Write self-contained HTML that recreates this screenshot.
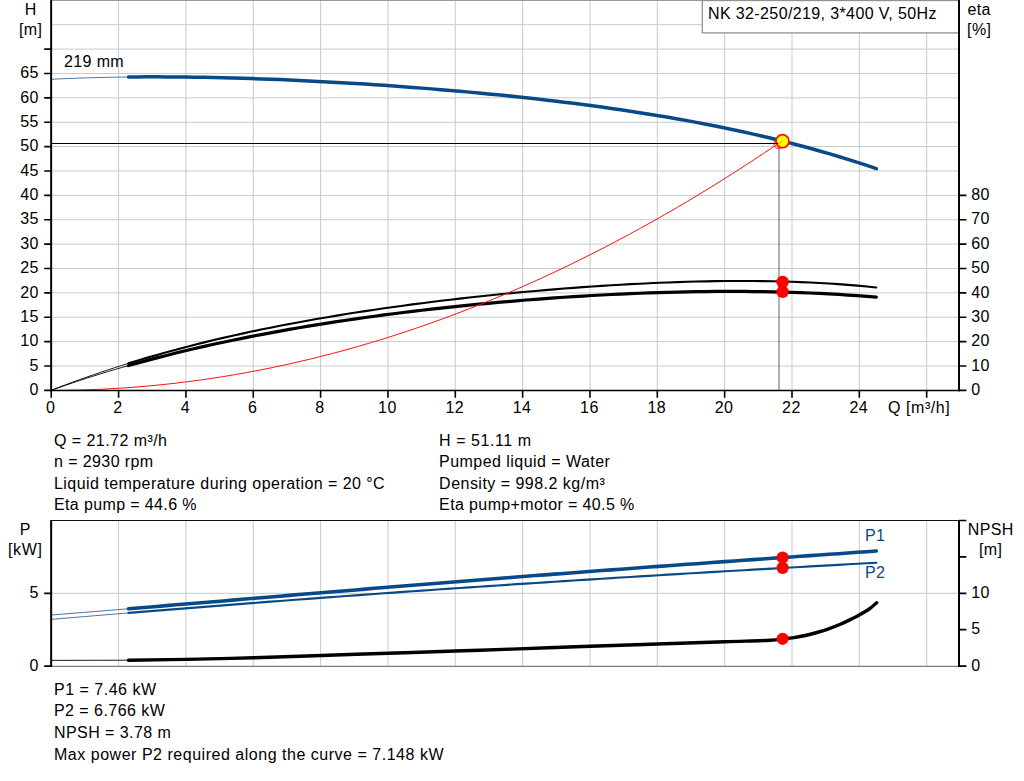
<!DOCTYPE html>
<html><head><meta charset="utf-8"><title>Pump curve</title>
<style>html,body{margin:0;padding:0;background:#fff;overflow:hidden}svg{display:block}</style></head>
<body>
<svg width="1024" height="781" viewBox="0 0 1024 781" font-family="'Liberation Sans', sans-serif" font-size="16" fill="#000" letter-spacing="0.38">
<rect width="1024" height="781" fill="#fff"/>
<path d="M118.59,0V390.4 M185.93,0V390.4 M253.27,0V390.4 M320.61,0V390.4 M387.95,0V390.4 M455.29,0V390.4 M522.63,0V390.4 M589.97,0V390.4 M657.31,0V390.4 M724.65,0V390.4 M791.99,0V390.4 M859.33,0V390.4 M926.67,0V390.4 M51.15,366.02H959.0 M51.15,341.64H959.0 M51.15,317.26H959.0 M51.15,292.88H959.0 M51.15,268.50H959.0 M51.15,244.12H959.0 M51.15,219.74H959.0 M51.15,195.36H959.0 M51.15,170.98H959.0 M51.15,146.60H959.0 M51.15,122.22H959.0 M51.15,97.84H959.0 M51.15,73.46H959.0 M51.15,49.08H959.0 M51.15,24.70H959.0" stroke="#c6cacd" stroke-width="1" fill="none"/>
<path d="M51.15,0.5H959.0" stroke="#9a9a9a" stroke-width="1.2"/>
<rect x="702.3" y="0.5" width="256.70000000000005" height="32.4" fill="#fff" stroke="#909090" stroke-width="1.3"/>
<text x="708" y="18.6">NK 32-250/219, 3*400 V, 50Hz</text>
<path d="M779,147V390.4" stroke="#000" stroke-opacity="0.31" stroke-width="2"/>
<circle cx="778.9" cy="143.8" r="4.9" fill="none" stroke="#ff2020" stroke-width="1"/>
<path d="M51.25,390.29 L58.27,387.57 L65.30,384.91 L72.32,382.30 L79.35,379.74 L86.37,377.24 L93.40,374.80 L100.42,372.40 L107.45,370.06 L114.47,367.76 L121.50,365.51 L128.52,363.32" stroke="#000" stroke-width="0.9" fill="none"/>
<path d="M51.25,390.24 L58.27,387.75 L65.30,385.32 L72.32,382.93 L79.35,380.60 L86.37,378.31 L93.40,376.07 L100.42,373.88 L107.45,371.74 L114.47,369.64 L121.50,367.58 L128.52,365.57" stroke="#000" stroke-width="0.9" fill="none"/>
<path d="M128.52,363.32 L137.99,360.43 L147.45,357.62 L156.92,354.90 L166.39,352.25 L175.85,349.68 L185.32,347.18 L194.78,344.75 L204.25,342.39 L213.72,340.10 L223.18,337.88 L232.65,335.72 L242.11,333.62 L251.58,331.57 L261.05,329.59 L270.51,327.66 L279.98,325.79 L289.44,323.97 L298.91,322.20 L308.38,320.48 L317.84,318.80 L327.31,317.18 L336.77,315.59 L346.24,314.06 L355.71,312.56 L365.17,311.10 L374.64,309.69 L384.10,308.31 L393.57,306.97 L403.04,305.67 L412.50,304.41 L421.97,303.18 L431.43,301.98 L440.90,300.82 L450.37,299.69 L459.83,298.59 L469.30,297.53 L478.76,296.49 L488.23,295.49 L497.70,294.52 L507.16,293.58 L516.63,292.67 L526.09,291.79 L535.56,290.94 L545.02,290.12 L554.49,289.33 L563.96,288.57 L573.42,287.84 L582.89,287.15 L592.35,286.49 L601.82,285.86 L611.29,285.26 L620.75,284.70 L630.22,284.17 L639.68,283.68 L649.15,283.22 L658.62,282.81 L668.08,282.43 L677.55,282.09 L687.01,281.79 L696.48,281.54 L705.95,281.33 L715.41,281.17 L724.88,281.05 L734.34,280.99 L743.81,280.97 L753.28,281.01 L762.74,281.11 L772.21,281.26 L781.67,281.47 L791.14,281.75 L800.61,282.09 L810.07,282.49 L819.54,282.97 L829.00,283.52 L838.47,284.15 L847.94,284.85 L857.40,285.64 L866.87,286.51 L876.33,287.47" stroke="#000" stroke-width="2.1" fill="none" stroke-linecap="round"/>
<path d="M128.52,365.57 L137.99,362.93 L147.45,360.36 L156.92,357.86 L166.39,355.43 L175.85,353.07 L185.32,350.78 L194.78,348.55 L204.25,346.38 L213.72,344.28 L223.18,342.23 L232.65,340.24 L242.11,338.31 L251.58,336.42 L261.05,334.59 L270.51,332.82 L279.98,331.09 L289.44,329.40 L298.91,327.77 L308.38,326.18 L317.84,324.63 L327.31,323.13 L336.77,321.67 L346.24,320.25 L355.71,318.87 L365.17,317.53 L374.64,316.22 L384.10,314.96 L393.57,313.73 L403.04,312.53 L412.50,311.37 L421.97,310.25 L431.43,309.16 L440.90,308.10 L450.37,307.07 L459.83,306.08 L469.30,305.12 L478.76,304.19 L488.23,303.30 L497.70,302.43 L507.16,301.60 L516.63,300.79 L526.09,300.02 L535.56,299.28 L545.02,298.57 L554.49,297.89 L563.96,297.25 L573.42,296.63 L582.89,296.05 L592.35,295.49 L601.82,294.98 L611.29,294.49 L620.75,294.04 L630.22,293.62 L639.68,293.23 L649.15,292.88 L658.62,292.57 L668.08,292.29 L677.55,292.04 L687.01,291.84 L696.48,291.67 L705.95,291.55 L715.41,291.46 L724.88,291.41 L734.34,291.41 L743.81,291.45 L753.28,291.53 L762.74,291.66 L772.21,291.83 L781.67,292.05 L791.14,292.32 L800.61,292.64 L810.07,293.01 L819.54,293.43 L829.00,293.91 L838.47,294.44 L847.94,295.03 L857.40,295.68 L866.87,296.38 L876.33,297.15" stroke="#000" stroke-width="3.2" fill="none" stroke-linecap="round"/>
<path d="M51.25,390.40 L63.53,390.33 L75.81,390.12 L88.09,389.77 L100.37,389.27 L112.65,388.64 L124.93,387.86 L137.21,386.95 L149.49,385.89 L161.77,384.69 L174.05,383.36 L186.33,381.88 L198.61,380.26 L210.89,378.50 L223.17,376.60 L235.45,374.55 L247.73,372.37 L260.01,370.05 L272.29,367.58 L284.57,364.97 L296.85,362.23 L309.13,359.34 L321.41,356.31 L333.69,353.14 L345.97,349.83 L358.25,346.38 L370.53,342.79 L382.81,339.05 L395.09,335.18 L407.37,331.17 L419.65,327.01 L431.93,322.71 L444.21,318.28 L456.49,313.70 L468.77,308.98 L481.05,304.12 L493.33,299.12 L505.61,293.98 L517.89,288.70 L530.17,283.27 L542.45,277.71 L554.73,272.00 L567.01,266.16 L579.29,260.17 L591.57,254.04 L603.85,247.77 L616.13,241.37 L628.41,234.82 L640.69,228.12 L652.97,221.29 L665.25,214.32 L677.53,207.21 L689.81,199.95 L702.09,192.56 L714.37,185.02 L726.65,177.34 L738.93,169.52 L751.21,161.57 L763.49,153.47 L775.77,145.23" stroke="#ff1010" stroke-width="1" fill="none"/>
<path d="M51.25,79.29 L58.27,78.95 L65.30,78.64 L72.32,78.36 L79.35,78.10 L86.37,77.87 L93.40,77.66 L100.42,77.48 L107.45,77.33 L114.47,77.19 L121.50,77.08 L128.52,77.00" stroke="#074a87" stroke-width="0.75" fill="none"/>
<path d="M128.52,77.00 L137.99,76.91 L147.45,76.87 L156.92,76.86 L166.39,76.88 L175.85,76.94 L185.32,77.04 L194.78,77.17 L204.25,77.32 L213.72,77.51 L223.18,77.73 L232.65,77.98 L242.11,78.25 L251.58,78.55 L261.05,78.88 L270.51,79.24 L279.98,79.62 L289.44,80.02 L298.91,80.45 L308.38,80.90 L317.84,81.38 L327.31,81.88 L336.77,82.40 L346.24,82.95 L355.71,83.51 L365.17,84.10 L374.64,84.72 L384.10,85.35 L393.57,86.01 L403.04,86.69 L412.50,87.40 L421.97,88.13 L431.43,88.88 L440.90,89.65 L450.37,90.45 L459.83,91.28 L469.30,92.13 L478.76,93.00 L488.23,93.90 L497.70,94.83 L507.16,95.79 L516.63,96.78 L526.09,97.79 L535.56,98.84 L545.02,99.91 L554.49,101.02 L563.96,102.17 L573.42,103.34 L582.89,104.56 L592.35,105.80 L601.82,107.09 L611.29,108.42 L620.75,109.79 L630.22,111.20 L639.68,112.65 L649.15,114.15 L658.62,115.70 L668.08,117.29 L677.55,118.93 L687.01,120.63 L696.48,122.38 L705.95,124.19 L715.41,126.05 L724.88,127.97 L734.34,129.95 L743.81,132.00 L753.28,134.12 L762.74,136.30 L772.21,138.55 L781.67,140.87 L791.14,143.27 L800.61,145.75 L810.07,148.30 L819.54,150.94 L829.00,153.66 L838.47,156.47 L847.94,159.37 L857.40,162.36 L866.87,165.45 L876.33,168.63" stroke="#074a87" stroke-width="3.5" fill="none" stroke-linecap="round"/>
<path d="M51.15,0V391.29999999999995 M959.0,0V391.29999999999995" stroke="#000" stroke-width="1.95" fill="none"/>
<path d="M50.15,390.54999999999995H960.0" stroke="#000" stroke-width="1.6" fill="none"/>
<path d="M44.2,390.40H51.15 M44.2,366.02H51.15 M44.2,341.64H51.15 M44.2,317.26H51.15 M44.2,292.88H51.15 M44.2,268.50H51.15 M44.2,244.12H51.15 M44.2,219.74H51.15 M44.2,195.36H51.15 M44.2,170.98H51.15 M44.2,146.60H51.15 M44.2,122.22H51.15 M44.2,97.84H51.15 M44.2,73.46H51.15 M44.2,49.08H51.15 M959.0,390.40H966.4 M959.0,366.02H966.4 M959.0,341.64H966.4 M959.0,317.26H966.4 M959.0,292.88H966.4 M959.0,268.50H966.4 M959.0,244.12H966.4 M959.0,219.74H966.4 M959.0,195.36H966.4" stroke="#000" stroke-width="1.6" fill="none"/>
<path d="M51.25,390.4V397.7 M118.59,390.4V397.7 M185.93,390.4V397.7 M253.27,390.4V397.7 M320.61,390.4V397.7 M387.95,390.4V397.7 M455.29,390.4V397.7 M522.63,390.4V397.7 M589.97,390.4V397.7 M657.31,390.4V397.7 M724.65,390.4V397.7 M791.99,390.4V397.7 M859.33,390.4V397.7 M926.67,390.4V397.7" stroke="#000" stroke-width="1.6" fill="none"/>
<text x="38.8" y="395.0" text-anchor="end">0</text>
<text x="38.8" y="370.7" text-anchor="end">5</text>
<text x="38.8" y="346.3" text-anchor="end">10</text>
<text x="38.8" y="321.9" text-anchor="end">15</text>
<text x="38.8" y="297.5" text-anchor="end">20</text>
<text x="38.8" y="273.1" text-anchor="end">25</text>
<text x="38.8" y="248.8" text-anchor="end">30</text>
<text x="38.8" y="224.4" text-anchor="end">35</text>
<text x="38.8" y="200.0" text-anchor="end">40</text>
<text x="38.8" y="175.6" text-anchor="end">45</text>
<text x="38.8" y="151.2" text-anchor="end">50</text>
<text x="38.8" y="126.9" text-anchor="end">55</text>
<text x="38.8" y="102.5" text-anchor="end">60</text>
<text x="38.8" y="78.1" text-anchor="end">65</text>
<text x="50.6" y="413" text-anchor="middle">0</text>
<text x="118.0" y="413" text-anchor="middle">2</text>
<text x="185.3" y="413" text-anchor="middle">4</text>
<text x="252.7" y="413" text-anchor="middle">6</text>
<text x="320.0" y="413" text-anchor="middle">8</text>
<text x="387.4" y="413" text-anchor="middle">10</text>
<text x="454.7" y="413" text-anchor="middle">12</text>
<text x="522.0" y="413" text-anchor="middle">14</text>
<text x="589.4" y="413" text-anchor="middle">16</text>
<text x="656.7" y="413" text-anchor="middle">18</text>
<text x="724.1" y="413" text-anchor="middle">20</text>
<text x="791.4" y="413" text-anchor="middle">22</text>
<text x="858.7" y="413" text-anchor="middle">24</text>
<text x="971.3" y="395.0">0</text>
<text x="971.3" y="370.6">10</text>
<text x="971.3" y="346.2">20</text>
<text x="971.3" y="321.9">30</text>
<text x="971.3" y="297.5">40</text>
<text x="971.3" y="273.1">50</text>
<text x="971.3" y="248.7">60</text>
<text x="971.3" y="224.3">70</text>
<text x="971.3" y="200.0">80</text>
<text x="888" y="412.6" letter-spacing="0.56">Q [m³/h]</text>
<text x="30.7" y="14.9" text-anchor="middle">H</text>
<text x="30.7" y="34.5" text-anchor="middle">[m]</text>
<text x="979.2" y="14.8" text-anchor="middle">eta</text>
<text x="979.2" y="34.5" text-anchor="middle">[%]</text>
<text x="64" y="67">219 mm</text>
<circle cx="782.6" cy="282.0" r="6.2" fill="#ff0000"/>
<circle cx="782.6" cy="291.8" r="6.2" fill="#ff0000"/>
<circle cx="782.5" cy="141.2" r="6.5" fill="#ffff00" stroke="#ff1010" stroke-width="1.8"/>
<path d="M51.15,143.5H778" stroke="#000" stroke-width="1.05"/>
<path d="M776.5,145.3L782.6,141.1" stroke="#ff5020" stroke-width="0.8" opacity="0.75"/>
<text x="54" y="445.7" letter-spacing="0.45">Q = 21.72 m³/h</text>
<text x="439.1" y="445.7" letter-spacing="0.56">H = 51.11 m</text>
<text x="54" y="467.2" letter-spacing="0.4">n = 2930 rpm</text>
<text x="439.1" y="467.2" letter-spacing="0.45">Pumped liquid = Water</text>
<text x="54" y="488.8" letter-spacing="0.445">Liquid temperature during operation = 20 °C</text>
<text x="439.1" y="488.8" letter-spacing="0.48">Density = 998.2 kg/m³</text>
<text x="54" y="510.4" letter-spacing="0.37">Eta pump = 44.6 %</text>
<text x="439.1" y="510.4" letter-spacing="0.38">Eta pump+motor = 40.5 %</text>
<path d="M118.59,520.5V666.1 M185.93,520.5V666.1 M253.27,520.5V666.1 M320.61,520.5V666.1 M387.95,520.5V666.1 M455.29,520.5V666.1 M522.63,520.5V666.1 M589.97,520.5V666.1 M657.31,520.5V666.1 M724.65,520.5V666.1 M791.99,520.5V666.1 M859.33,520.5V666.1 M926.67,520.5V666.1 M51.15,593.3H959.0" stroke="#c6cacd" stroke-width="1" fill="none"/>
<path d="M51.15,666.4H959.0" stroke="#7c7c7c" stroke-width="1.1"/>
<path d="M51.15,520.5H959.0" stroke="#111" stroke-width="1.2"/>
<path d="M51.20,660.40 C64.08,660.37 115.62,660.23 128.50,660.20" stroke="#000" stroke-width="0.9" fill="none"/>
<path d="M128.50,660.20 C138.17,660.06 165.58,659.76 186.50,659.35 C207.42,658.94 231.50,658.39 254.00,657.75 C276.50,657.11 299.17,656.25 321.50,655.50 C343.83,654.75 365.71,654.00 388.00,653.25 C410.29,652.50 434.58,651.69 455.25,651.00 C475.92,650.31 489.54,649.88 512.00,649.10 C534.46,648.32 565.75,647.15 590.00,646.30 C614.25,645.45 635.04,644.76 657.50,644.00 C679.96,643.24 706.00,642.37 724.75,641.75 C743.50,641.13 760.38,640.77 770.00,640.30 C779.62,639.82 778.78,639.30 782.50,638.90 C786.22,638.50 788.52,638.47 792.30,637.90 C796.08,637.33 801.10,636.40 805.20,635.50 C809.30,634.60 813.00,633.60 816.90,632.50 C820.80,631.40 824.70,630.27 828.60,628.90 C832.50,627.53 836.40,625.98 840.30,624.30 C844.20,622.62 848.77,620.38 852.00,618.80 C855.23,617.22 856.72,616.47 859.65,614.80 C862.58,613.12 866.77,610.77 869.60,608.75 C872.43,606.73 875.43,603.71 876.60,602.70" stroke="#000" stroke-width="3.4" fill="none" stroke-linecap="round"/>
<path d="M51.25,615.01 L62.29,614.13 L73.33,613.25 L84.37,612.36 L95.41,611.46 L106.44,610.56 L117.48,609.66 L128.52,608.75" stroke="#074a87" stroke-width="0.75" fill="none"/>
<path d="M51.25,619.37 L62.29,618.44 L73.33,617.51 L84.37,616.59 L95.41,615.67 L106.44,614.75 L117.48,613.84 L128.52,612.93" stroke="#074a87" stroke-width="0.75" fill="none"/>
<path d="M128.52,608.75 L137.99,607.98 L147.45,607.19 L156.92,606.41 L166.39,605.63 L175.85,604.84 L185.32,604.06 L194.78,603.27 L204.25,602.48 L213.72,601.69 L223.18,600.90 L232.65,600.11 L242.11,599.32 L251.58,598.53 L261.05,597.74 L270.51,596.95 L279.98,596.17 L289.44,595.38 L298.91,594.59 L308.38,593.81 L317.84,593.02 L327.31,592.24 L336.77,591.46 L346.24,590.68 L355.71,589.90 L365.17,589.12 L374.64,588.35 L384.10,587.58 L393.57,586.81 L403.04,586.04 L412.50,585.28 L421.97,584.51 L431.43,583.75 L440.90,583.00 L450.37,582.24 L459.83,581.49 L469.30,580.74 L478.76,579.99 L488.23,579.25 L497.70,578.51 L507.16,577.77 L516.63,577.04 L526.09,576.31 L535.56,575.58 L545.02,574.86 L554.49,574.13 L563.96,573.41 L573.42,572.70 L582.89,571.99 L592.35,571.28 L601.82,570.57 L611.29,569.87 L620.75,569.17 L630.22,568.47 L639.68,567.77 L649.15,567.08 L658.62,566.39 L668.08,565.70 L677.55,565.02 L687.01,564.34 L696.48,563.66 L705.95,562.98 L715.41,562.31 L724.88,561.63 L734.34,560.96 L743.81,560.29 L753.28,559.62 L762.74,558.96 L772.21,558.29 L781.67,557.63 L791.14,556.96 L800.61,556.30 L810.07,555.64 L819.54,554.98 L829.00,554.32 L838.47,553.65 L847.94,552.99 L857.40,552.33 L866.87,551.66 L876.33,551.00" stroke="#074a87" stroke-width="3.55" fill="none" stroke-linecap="round"/>
<path d="M128.52,612.93 L137.99,612.16 L147.45,611.39 L156.92,610.62 L166.39,609.86 L175.85,609.09 L185.32,608.34 L194.78,607.58 L204.25,606.83 L213.72,606.09 L223.18,605.34 L232.65,604.60 L242.11,603.87 L251.58,603.14 L261.05,602.41 L270.51,601.68 L279.98,600.96 L289.44,600.25 L298.91,599.53 L308.38,598.82 L317.84,598.12 L327.31,597.42 L336.77,596.72 L346.24,596.02 L355.71,595.33 L365.17,594.65 L374.64,593.97 L384.10,593.29 L393.57,592.61 L403.04,591.94 L412.50,591.27 L421.97,590.61 L431.43,589.95 L440.90,589.30 L450.37,588.65 L459.83,588.00 L469.30,587.35 L478.76,586.71 L488.23,586.08 L497.70,585.45 L507.16,584.82 L516.63,584.19 L526.09,583.57 L535.56,582.95 L545.02,582.34 L554.49,581.73 L563.96,581.12 L573.42,580.52 L582.89,579.92 L592.35,579.32 L601.82,578.73 L611.29,578.14 L620.75,577.55 L630.22,576.97 L639.68,576.39 L649.15,575.81 L658.62,575.24 L668.08,574.66 L677.55,574.10 L687.01,573.53 L696.48,572.97 L705.95,572.41 L715.41,571.85 L724.88,571.30 L734.34,570.75 L743.81,570.20 L753.28,569.65 L762.74,569.10 L772.21,568.56 L781.67,568.02 L791.14,567.49 L800.61,566.95 L810.07,566.42 L819.54,565.88 L829.00,565.35 L838.47,564.82 L847.94,564.30 L857.40,563.77 L866.87,563.25 L876.33,562.73" stroke="#074a87" stroke-width="2.15" fill="none" stroke-linecap="round"/>
<path d="M51.15,520.0V667.0 M959.0,520.0V667.0" stroke="#000" stroke-width="2" fill="none"/>
<path d="M44.2,666.1H51.15 M44.2,593.3H51.15 M959.0,666.10H966.4 M959.0,629.70H966.4 M959.0,593.30H966.4 M959.0,556.90H966.4 M959.0,520.50H966.4" stroke="#000" stroke-width="1.7" fill="none"/>
<text x="38.8" y="597.8" text-anchor="end">5</text>
<text x="38.8" y="670.8" text-anchor="end">0</text>
<text x="971.3" y="597.8">10</text>
<text x="971.3" y="634.3">5</text>
<text x="971.3" y="670.8">0</text>
<text x="25.2" y="535.4" text-anchor="middle">P</text>
<text x="25.2" y="554.7" text-anchor="middle" letter-spacing="0.65">[kW]</text>
<text x="990.8" y="535" text-anchor="middle">NPSH</text>
<text x="990.6" y="554.8" text-anchor="middle">[m]</text>
<text x="865" y="540.5" fill="#074a87">P1</text>
<text x="865" y="577.5" fill="#074a87">P2</text>
<circle cx="782.6" cy="557.5" r="6.1" fill="#ff0000"/>
<circle cx="782.6" cy="567.85" r="6.1" fill="#ff0000"/>
<circle cx="782.6" cy="638.8" r="6.1" fill="#ff0000"/>
<text x="54" y="694.7" letter-spacing="0.5">P1 = 7.46 kW</text>
<text x="54" y="716.3" letter-spacing="0.45">P2 = 6.766 kW</text>
<text x="54" y="737.9" letter-spacing="0.43">NPSH = 3.78 m</text>
<text x="54" y="759.5" letter-spacing="0.52">Max power P2 required along the curve = 7.148 kW</text>
</svg>
</body></html>
